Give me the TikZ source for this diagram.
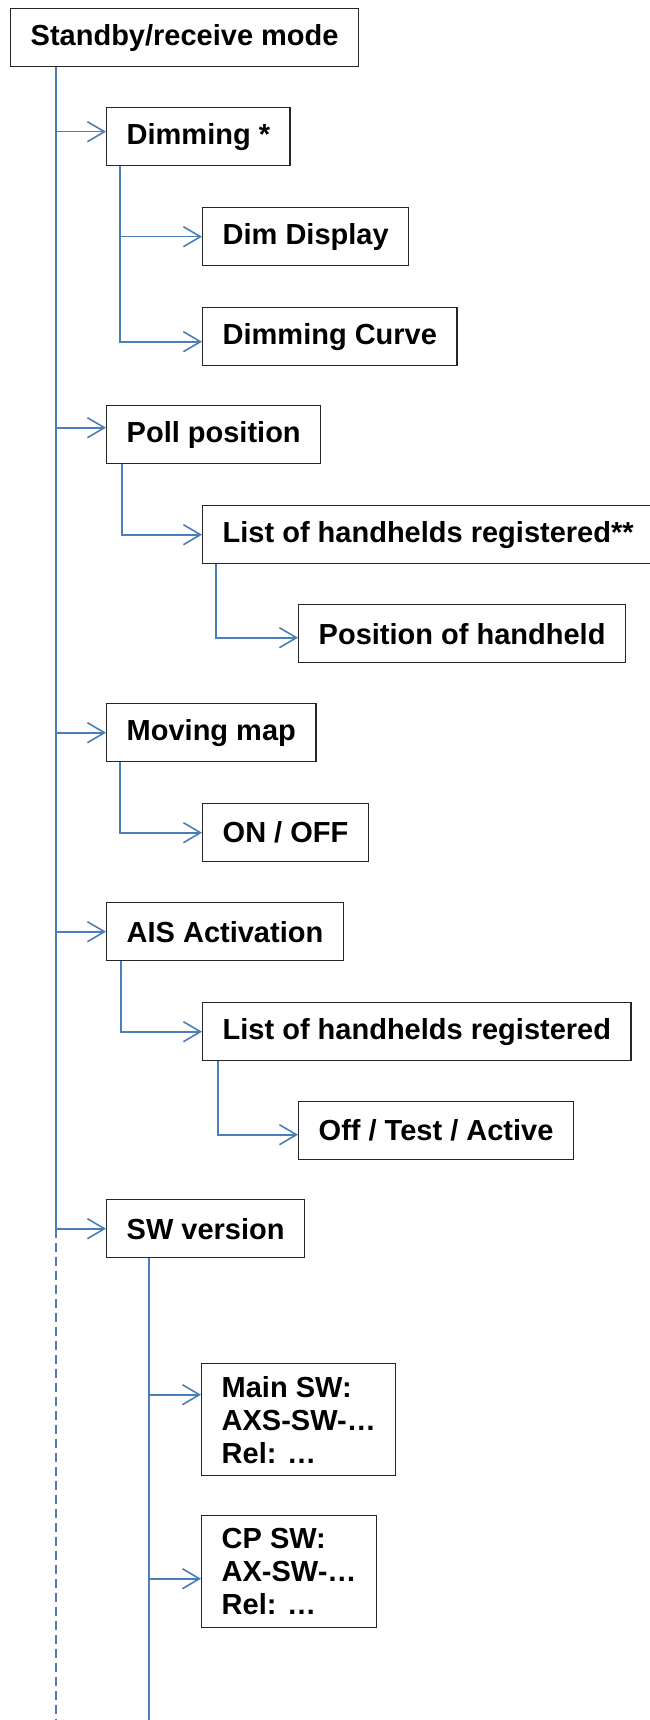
\documentclass[tikz,border=0pt]{standalone}
\usepackage{fontspec}
\setmainfont{Liberation Sans}
\usetikzlibrary{arrows.meta}
\definecolor{connblue}{HTML}{4A7EBB}
\begin{document}
\begin{tikzpicture}[x=1pt,y=-1pt,
  box/.style={draw=black!85,line width=1.4pt,anchor=north west,inner xsep=20pt,inner ysep=0pt,
    minimum height=58pt,font=\fontsize{29}{33}\selectfont\bfseries,align=left},
  tallbox/.style={box,minimum height=112pt},
  conn/.style={draw=connblue,line width=1.6pt,-{Straight Barb[length=17pt,width=20pt]}},
  trunk/.style={draw=connblue,line width=1.6pt}]
\useasboundingbox (0,0) rectangle (650,1720);
\fill[white] (0,0) rectangle (650,1720);

\node[box] (root) at (10,8) {Standby/receive mode};
\node[box] (dim) at (106,107) {Dimming *};
\node[box] (dd) at (202,207) {Dim Display};
\node[box] (dc) at (202,307) {Dimming Curve};
\node[box] (poll) at (106,405) {Poll position};
\node[box] (lh1) at (202,505) {List of handhelds registered**};
\node[box] (pos) at (298,604) {Position of handheld};
\node[box] (mm) at (106,703) {Moving map};
\node[box] (onoff) at (202,803) {ON / OFF};
\node[box] (ais) at (106,902) {AIS Activation};
\node[box] (lh2) at (202,1002) {List of handhelds registered};
\node[box] (ota) at (298,1101) {Off / Test / Active};
\node[box] (sw) at (106,1199) {SW version};
\node[tallbox] (msw) at (201,1363) {Main SW:\\AXS-SW-…\\Rel: …};
\node[tallbox] (cpsw) at (201,1515) {CP SW:\\AX-SW-…\\Rel: …};

\coordinate (mt) at ([xshift=46pt]root.south west);
\coordinate (dimt) at ([xshift=14pt]dim.south west);
\coordinate (pollt) at ([xshift=16pt]poll.south west);
\coordinate (lh1t) at ([xshift=14pt]lh1.south west);
\coordinate (mmt) at ([xshift=14pt]mm.south west);
\coordinate (aist) at ([xshift=15pt]ais.south west);
\coordinate (lh2t) at ([xshift=16pt]lh2.south west);
\coordinate (swt) at ([xshift=43pt]sw.south west);
\coordinate (mainend) at (56,1720);
\coordinate (swend) at (149,1720);

% main trunk children
\draw[conn] (mt) |- ([yshift=5pt]dim.west);
\draw[conn] (mt) |- ([yshift=7pt]poll.west);
\draw[conn] (mt) |- (mm.west);
\draw[conn] (mt) |- (ais.west);
\draw[conn] (mt) |- (sw.west);
\draw[trunk,dash pattern=on 9pt off 5pt] (mt |- sw.west) -- (mainend);

% dimming
\draw[conn] (dimt) |- (dd.west);
\draw[conn] (dimt) |- ([yshift=-5pt]dc.west);

% poll
\draw[conn] (pollt) |- (lh1.west);
\draw[conn] (lh1t) |- ([yshift=-4pt]pos.west);

% moving map
\draw[conn] (mmt) |- (onoff.west);

% AIS
\draw[conn] (aist) |- (lh2.west);
\draw[conn] (lh2t) |- ([yshift=-4pt]ota.west);

% SW version
\draw[trunk] (swt) -- (swend);
\draw[conn] (swt) |- ([yshift=25pt]msw.west);
\draw[conn] (swt) |- ([yshift=-7pt]cpsw.west);
\end{tikzpicture}
\end{document}
